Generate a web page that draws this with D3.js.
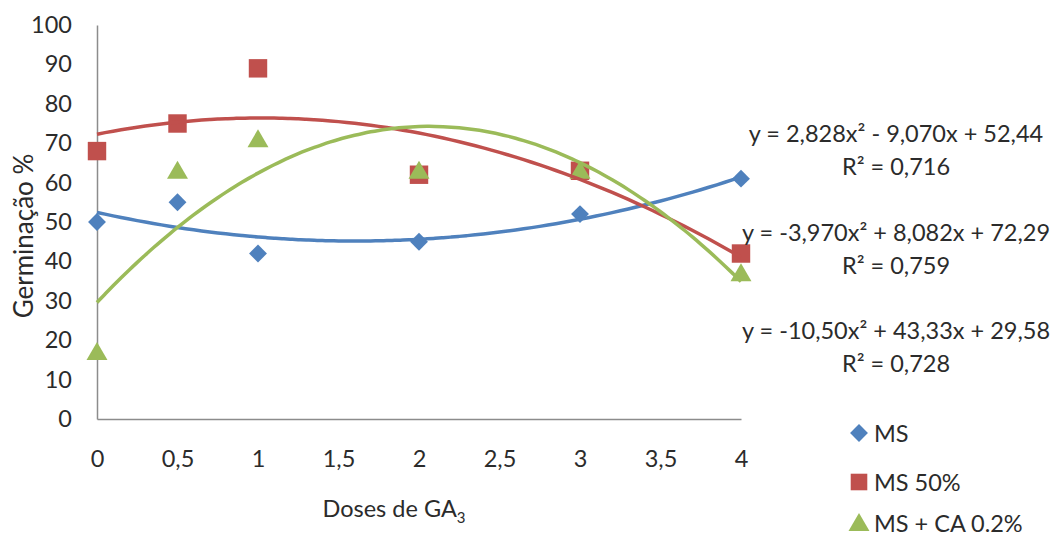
<!DOCTYPE html>
<html>
<head>
<meta charset="utf-8">
<title>Germinação x Doses de GA3</title>
<script src="https://cdnjs.cloudflare.com/ajax/libs/d3/7.8.5/d3.min.js"></script>
<style>
    body {
        margin: 0;
        background: #fff;
    }

    #renderer {
        width: 1056px;
        height: 538px;
        background: #fff;
        font-family: Lato, 'Open Sans', sans-serif;
    }
</style>
</head>
<body>
<svg id="renderer"></svg>

<script>
    // data
    var doses = [0, 0.5, 1, 2, 3, 4];
    var msValues = [50, 55, 42, 45, 52, 61];
    var ms50Values = [68, 75, 89, 62, 63, 42];
    var msCaValues = [17, 63, 71, 63, 63, 37];

    var seriesNames = ['MS', 'MS 50%', 'MS + CA 0.2%'];
    var seriesColors = ['#4F81BD', '#C0504D', '#9BBB59'];

    var xTicks = [0, 0.5, 1, 1.5, 2, 2.5, 3, 3.5, 4];
    var yTicks = [0, 10, 20, 30, 40, 50, 60, 70, 80, 90, 100];

    // polynomial trendline coefficients (a, b, c) as printed on the chart
    var trendA = [2.828, -3.970, -10.50];
    var trendB = [-9.070, 8.082, 43.33];
    var trendC = [52.44, 72.29, 29.58];
    var trendLabels = ['y = 2,828x² - 9,070x + 52,44', 'y = -3,970x² + 8,082x + 72,29', 'y = -10,50x² + 43,33x + 29,58'];
    var r2Labels = ['R² = 0,716', 'R² = 0,759', 'R² = 0,728'];

    var allValues = [msValues, ms50Values, msCaValues];

    var root = d3.select('#renderer');

    var plotLeft = 97, plotRight = 741, plotTop = 25, plotBottom = 419;
    var fontSize = 23.5;
    var textColor = '#2b2b2b';

    var x = d3.scaleLinear().domain([0, 4]).range([plotLeft, plotRight]);
    var y = d3.scaleLinear().domain([0, 100]).range([plotBottom, plotTop]);

    var fmt = function (d) { return String(d).replace('.', ','); };

    // axes
    var yAxis = root.append('g')
        .attr('transform', 'translate(' + plotLeft + ',0)')
        .call(d3.axisLeft(y).tickValues(yTicks).tickSize(0).tickPadding(25));
    var xAxis = root.append('g')
        .attr('transform', 'translate(0,' + plotBottom + ')')
        .call(d3.axisBottom(x).tickValues(xTicks).tickFormat(fmt).tickSize(0).tickPadding(31));

    [xAxis, yAxis].forEach(function (ax) {
        ax.select('.domain').attr('stroke', '#8c8c8c').attr('stroke-width', 1.5);
        ax.selectAll('text')
            .attr('font-family', 'Lato, sans-serif')
            .attr('font-size', fontSize)
            .attr('fill', textColor);
    });

    // axis titles
    root.append('text')
        .attr('transform', 'translate(33,236) rotate(-90)')
        .attr('text-anchor', 'middle')
        .attr('font-size', 26)
        .attr('fill', textColor)
        .text('Germinação %');

    var xTitle = root.append('text')
        .attr('x', 394)
        .attr('y', 517)
        .attr('text-anchor', 'middle')
        .attr('font-size', fontSize)
        .attr('fill', textColor);
    xTitle.append('tspan').text('Doses de GA');
    xTitle.append('tspan').attr('dy', 6).attr('font-size', 15).text('3');

    // markers
    var symbolTypes = [d3.symbolSquare, d3.symbolSquare, d3.symbolTriangle];
    var symbolSizes = [160, 340, 190];
    var symbolRotate = [45, 0, 0];

    function markerPath(i) {
        return d3.symbol().type(symbolTypes[i]).size(symbolSizes[i])();
    }

    for (var i = 0; i < allValues.length; i++) {
        root.append('g').selectAll('path')
            .data(allValues[i])
            .enter()
            .append('path')
            .attr('d', markerPath(i))
            .attr('transform', function (d, j) {
                var ty = y(d) + (i === 2 ? 2 : 0);
                return 'translate(' + x(doses[j]) + ',' + ty + ') rotate(' + symbolRotate[i] + ')';
            })
            .attr('fill', seriesColors[i]);
    }

    // trendlines
    var line = d3.line()
        .x(function (d) { return x(d[0]); })
        .y(function (d) { return y(d[1]); })
        .curve(d3.curveBasis);

    var xs = d3.range(0, 4.0001, 0.05);
    for (var k = 0; k < trendA.length; k++) {
        var pts = xs.map(function (t) { return [t, trendA[k] * t * t + trendB[k] * t + trendC[k]]; });
        root.append('path')
            .attr('d', line(pts))
            .attr('fill', 'none')
            .attr('stroke', seriesColors[k])
            .attr('stroke-width', 3.5);
    }

    // equation labels
    var eqY = [133, 232, 330];
    for (var m = 0; m < trendLabels.length; m++) {
        root.append('text')
            .attr('x', 896)
            .attr('y', eqY[m])
            .attr('text-anchor', 'middle')
            .attr('dominant-baseline', 'central')
            .attr('font-size', fontSize)
            .attr('fill', textColor)
            .text(trendLabels[m]);
        root.append('text')
            .attr('x', 896)
            .attr('y', eqY[m] + 33)
            .attr('text-anchor', 'middle')
            .attr('dominant-baseline', 'central')
            .attr('font-size', fontSize)
            .attr('fill', textColor)
            .text(r2Labels[m]);
    }

    // legend
    var legendY = [433, 482, 523];
    var legend = root.append('g').selectAll('g')
        .data(seriesNames)
        .enter()
        .append('g')
        .attr('transform', function (d, i) { return 'translate(859,' + legendY[i] + ')'; });

    legend.append('path')
        .attr('d', function (d, i) { return markerPath(i); })
        .attr('transform', function (d, i) { return 'translate(0,' + (i === 2 ? 2 : 0) + ') rotate(' + symbolRotate[i] + ')' + (i === 1 ? ' scale(0.9)' : ''); })
        .attr('fill', function (d, i) { return seriesColors[i]; });

    legend.append('text')
        .attr('x', 15)
        .attr('dominant-baseline', 'central')
        .attr('font-size', fontSize)
        .attr('fill', textColor)
        .text(function (d) { return d; });
</script>
</body>
</html>
